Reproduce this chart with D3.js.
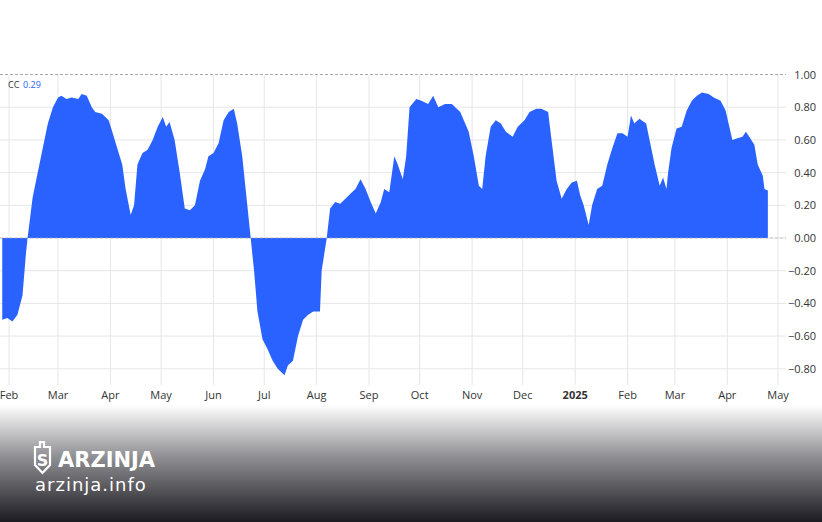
<!DOCTYPE html>
<html><head><meta charset="utf-8">
<script src="https://cdn.jsdelivr.net/npm/d3@7"></script>
<style>body{margin:0;background:#fff;overflow:hidden}svg{display:block;font-family:"Open Sans",sans-serif}</style>
</head><body>
<svg id="chart" width="822" height="522"></svg>
<script>
// days since 2024-02-01 and correlation value
var dayOffsets = [-4,-1,2,5,8,10,11,14,17,20,23,26,29,31,34,37,41,43,46,49,51,55,59,62,64,67,69,72,74,76,79,82,85,88,91,93,95,98,101,104,107,110,113,116,118,121,124,127,130,133,135,138,141,143,145,147,150,153,156,159,163,165,168,171,174,177,180,184,185,188,190,193,196,199,202,205,208,211,214,217,220,222,225,228,230,233,235,237,241,244,248,251,254,258,262,267,272,275,278,280,282,285,288,291,294,298,301,305,308,312,315,319,321,324,327,330,333,336,338,340,343,345,348,351,354,357,360,363,366,368,370,373,377,379,382,385,387,389,390,392,395,398,401,404,407,410,414,417,421,424,428,431,434,436,438,441,443,446,447,449];
var values = [-0.50,-0.49,-0.51,-0.47,-0.35,-0.1,0.0,0.25,0.4,0.55,0.7,0.8,0.86,0.87,0.85,0.86,0.85,0.88,0.87,0.8,0.77,0.76,0.72,0.62,0.55,0.45,0.3,0.14,0.2,0.45,0.52,0.54,0.6,0.68,0.74,0.68,0.71,0.6,0.4,0.18,0.17,0.2,0.35,0.42,0.5,0.52,0.58,0.72,0.77,0.79,0.7,0.5,0.2,0.0,-0.2,-0.45,-0.62,-0.68,-0.75,-0.8,-0.84,-0.78,-0.75,-0.6,-0.5,-0.47,-0.45,-0.45,-0.2,0.0,0.18,0.22,0.21,0.24,0.27,0.3,0.36,0.3,0.22,0.15,0.22,0.3,0.28,0.5,0.45,0.36,0.5,0.8,0.85,0.84,0.82,0.87,0.8,0.82,0.82,0.77,0.65,0.5,0.32,0.3,0.5,0.68,0.72,0.7,0.65,0.62,0.68,0.72,0.77,0.79,0.79,0.77,0.6,0.35,0.24,0.3,0.34,0.35,0.26,0.2,0.08,0.2,0.3,0.32,0.45,0.55,0.64,0.64,0.62,0.75,0.7,0.73,0.7,0.6,0.45,0.32,0.37,0.3,0.4,0.55,0.67,0.68,0.78,0.84,0.87,0.89,0.88,0.86,0.84,0.78,0.6,0.61,0.62,0.65,0.62,0.57,0.45,0.38,0.3,0.29];
var yTicks = [1.0,0.8,0.6,0.4,0.2,0,-0.2,-0.4,-0.6,-0.8];
var monthTicks = ["2024-02-01","2024-03-01","2024-04-01","2024-05-01","2024-06-01","2024-07-01","2024-08-01","2024-09-01","2024-10-01","2024-11-01","2024-12-01","2025-01-01","2025-02-01","2025-03-01","2025-04-01","2025-05-01"];

var svg = d3.select("#chart");
var start = new Date(2024, 1, 1);
var data = dayOffsets.map(function (d, i) { return { date: d3.timeDay.offset(start, d), v: values[i] }; });

var x = d3.scaleTime().domain([start, new Date(2025, 4, 1)]).range([9, 778]);
var y = d3.scaleLinear().domain([0, 1]).range([238, 74.5]);

// background gradient at the bottom
var defs = svg.append("defs");
var grad = defs.append("linearGradient").attr("id", "fade").attr("x1", 0).attr("x2", 0).attr("y1", 0).attr("y2", 1);
grad.append("stop").attr("offset", 0).attr("stop-color", "#ffffff");
grad.append("stop").attr("offset", 0.45).attr("stop-color", "#8e8e92");
grad.append("stop").attr("offset", 1).attr("stop-color", "#1b1b21");
svg.append("rect").attr("x", 0).attr("y", 405).attr("width", 822).attr("height", 117).attr("fill", "url(#fade)");

// grid
svg.append("g").selectAll("line").data(yTicks.slice(1)).enter().append("line")
    .attr("x1", 0).attr("x2", 786).attr("y1", function (d) { return y(d); }).attr("y2", function (d) { return y(d); })
    .attr("stroke", "#e6e6e6");
svg.append("g").selectAll("line").data(monthTicks).enter().append("line")
    .attr("x1", function (d) { return x(new Date(d)); }).attr("x2", function (d) { return x(new Date(d)); })
    .attr("y1", 75).attr("y2", 385).attr("stroke", "#e6e6e6");
svg.append("line").attr("x1", 0).attr("x2", 786).attr("y1", y(1)).attr("y2", y(1))
    .attr("stroke", "#aaa").attr("stroke-dasharray", "3,2");

// area
var area = d3.area().x(function (d) { return x(d.date); }).y0(y(0)).y1(function (d) { return y(d.v); });
svg.append("path").datum(data).attr("d", area).attr("fill", "#2962ff");
svg.append("line").attr("x1", 0).attr("x2", 786).attr("y1", y(0)).attr("y2", y(0))
    .attr("stroke", "#aaa").attr("stroke-dasharray", "3,2").attr("stroke-width", 0.6);

// y labels
svg.append("g").selectAll("text").data(yTicks).enter().append("text")
    .attr("x", 816).attr("y", function (d) { return y(d) + 4; }).attr("text-anchor", "end")
    .attr("font-size", 11).attr("fill", "#333")
    .text(function (d) { return d3.format(".2f")(d).replace("-", "\u2212"); });

// x labels
var fmt = function (d) { var dt = new Date(d); return dt.getMonth() === 0 ? "2025" : d3.timeFormat("%b")(dt); };
svg.append("g").selectAll("text").data(monthTicks).enter().append("text")
    .attr("x", function (d) { return x(new Date(d)); }).attr("y", 399).attr("text-anchor", "middle")
    .attr("font-size", 11).attr("fill", "#333")
    .attr("font-weight", function (d) { return new Date(d).getMonth() === 0 ? "bold" : "normal"; })
    .text(fmt);

// legend
svg.append("text").attr("x", 8).attr("y", 88).attr("font-size", 9).attr("fill", "#333").text("CC");
svg.append("text").attr("x", 23).attr("y", 88).attr("font-size", 9).attr("fill", "#2962ff").text("0.29");

// watermark
var logo = svg.append("g").attr("fill", "#fff");
logo.append("path").attr("d", "M35,447 L40,447 L40,442 L44,442 L44,447 L50,447 L50,465 L42.5,473 L35,465 Z")
    .attr("fill", "none").attr("stroke", "#fff").attr("stroke-width", 2.2);
logo.append("text").attr("x", 42.5).attr("y", 466).attr("text-anchor", "middle").attr("font-size", 16)
    .attr("font-weight", "bold").attr("font-family", "DejaVu Sans").text("S");
logo.append("text").attr("x", 58).attr("y", 467).attr("font-size", 21).attr("font-weight", "bold")
    .attr("font-family", "DejaVu Sans").text("ARZINJA");
logo.append("text").attr("x", 35).attr("y", 491).attr("font-size", 18).attr("letter-spacing", 1)
    .attr("font-family", "DejaVu Sans").text("arzinja.info");
</script>
</body></html>
